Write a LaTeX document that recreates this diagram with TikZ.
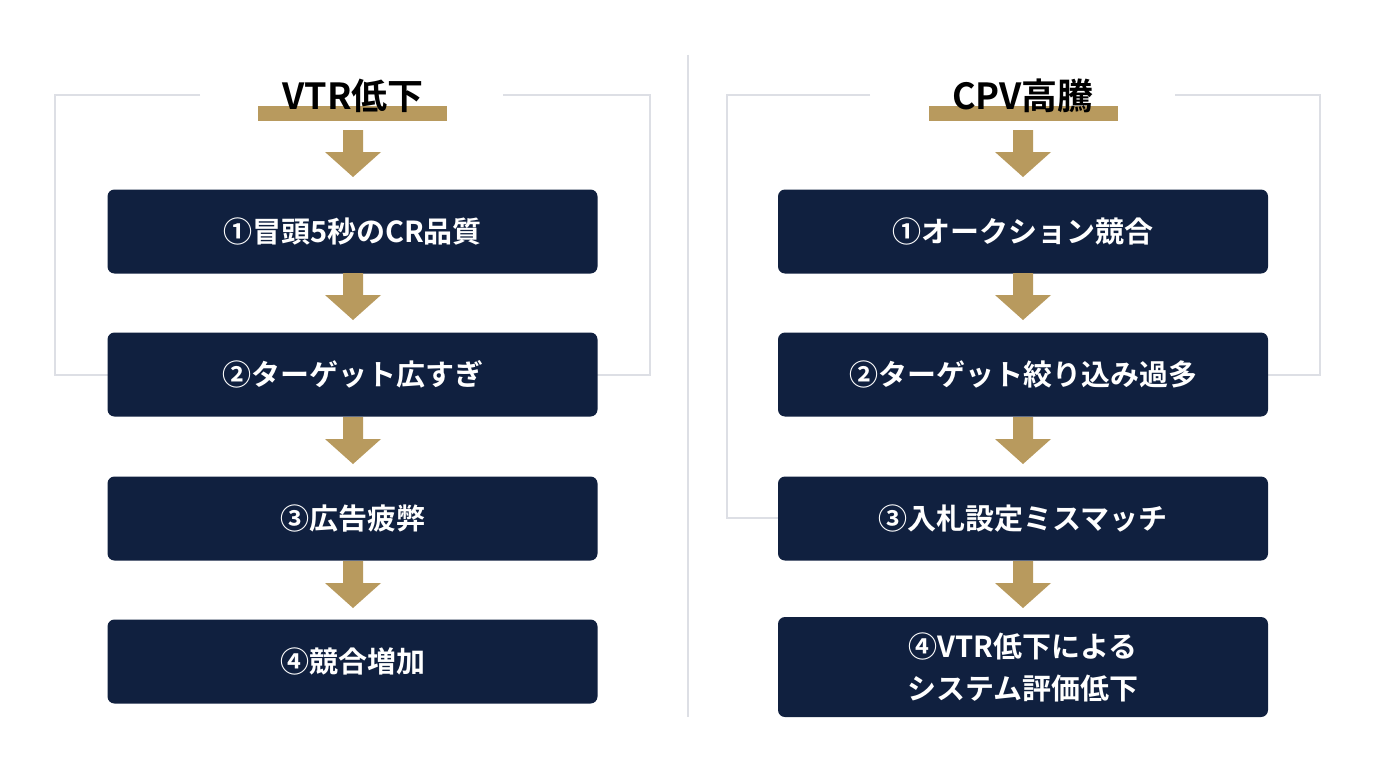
\documentclass[tikz,border=0pt]{standalone}
\usepackage{fontspec}
\setmainfont{Noto Sans CJK JP}[BoldFont={* Bold}]
\definecolor{navy}{HTML}{10203F}
\definecolor{gold}{HTML}{B89A5E}
\definecolor{lgray}{HTML}{DDDFE5}
\begin{document}
\begin{tikzpicture}[x=1pt,y=-1pt,
 box/.style={fill=navy,rounded corners=7pt,text=white,font=\bfseries\fontsize{29}{34}\selectfont,align=center,inner sep=0pt},
 ttl/.style={font=\bfseries\fontsize{36}{40}\selectfont,text=black},
 bar/.style={fill=gold},
 garrow/.style={fill=gold},
 gl/.style={draw=lgray,line width=2.5pt}]
\useasboundingbox (0,0) rectangle (1376,768);
\fill[white] (0,0) rectangle (1376,768);
\draw[gl] (688,55) -- (688,717);
% left
\draw[gl] (200,95) -- (55,95) -- (55,375) -- (108,375);
\draw[gl] (503,95) -- (650,95) -- (650,375) -- (597,375);
\fill[bar] (258,106) rectangle (447,121);
\node[ttl] (t1) at (353,96) {VTR低下};
\node[box,minimum width=490pt,minimum height=84pt] (a1) at (352.5,231.5) {①冒頭5秒のCR品質};
\node[box,minimum width=490pt,minimum height=84pt] (a2) at (352.5,374.5) {②ターゲット広すぎ};
\node[box,minimum width=490pt,minimum height=84pt] (a3) at (352.5,518.5) {③広告疲弊};
\node[box,minimum width=490pt,minimum height=84pt] (a4) at (352.5,661.5) {④競合増加};
% right
\draw[gl] (870,95) -- (727,95) -- (727,518) -- (778,518);
\draw[gl] (1175,95) -- (1320,95) -- (1320,375) -- (1268,375);
\fill[bar] (929,106) rectangle (1118,121);
\node[ttl] (t2) at (1023,96) {CPV高騰};
\node[box,minimum width=490pt,minimum height=84pt] (b1) at (1023,231.5) {①オークション競合};
\node[box,minimum width=490pt,minimum height=84pt] (b2) at (1023,374.5) {②ターゲット絞り込み過多};
\node[box,minimum width=490pt,minimum height=84pt] (b3) at (1023,518.5) {③入札設定ミスマッチ};
\node[box,minimum width=490pt,minimum height=100pt,font=\bfseries\fontsize{29}{42}\selectfont] (b4) at (1023,667) {④VTR低下による\\システム評価低下};
% arrows
\foreach \x/\y in {353/130,353/273,353/417,353/561,1023/130,1023/273,1023/417,1023/561}{
 \fill[gold] (\x-10,\y) -- (\x+10,\y) -- (\x+10,\y+22) -- (\x+28,\y+22) -- (\x,\y+47) -- (\x-28,\y+22) -- (\x-10,\y+22) -- cycle;}
\end{tikzpicture}
\end{document}
